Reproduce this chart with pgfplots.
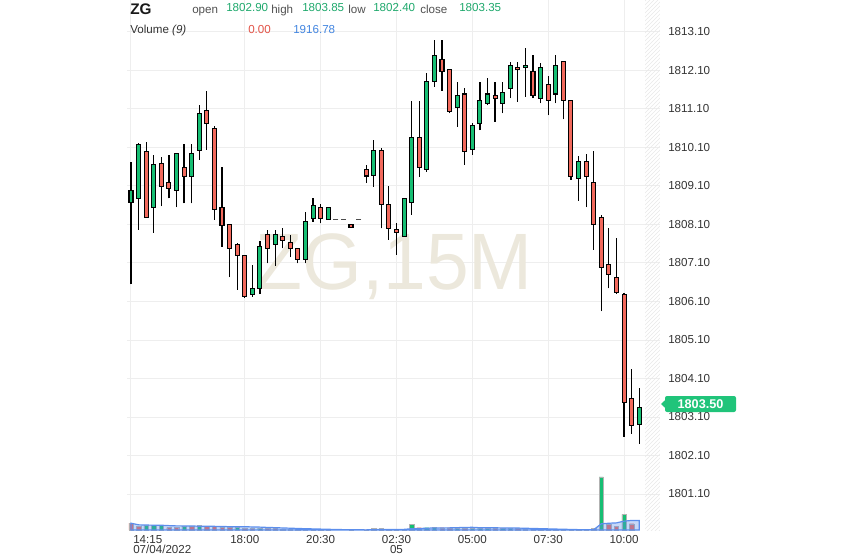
\documentclass[border=0pt]{standalone}
\usepackage{fontspec}
\setmainfont{Liberation Sans}
\usepackage{pgfplots}
\pgfplotsset{compat=1.18}
\usepackage{pgfplotstable}
\usetikzlibrary{patterns}

\definecolor{upG}{RGB}{22,190,115}
\definecolor{downR}{RGB}{242,105,92}
\definecolor{hdrG}{RGB}{30,168,108}
\definecolor{hdrR}{RGB}{226,82,70}
\definecolor{hdrB}{RGB}{66,133,224}
\definecolor{maBlue}{RGB}{92,142,236}
\definecolor{gridgray}{RGB}{238,238,238}
\definecolor{tickgray}{RGB}{51,51,51}
\definecolor{lblgray}{RGB}{80,80,80}
\definecolor{wm}{RGB}{236,232,220}
\definecolor{tagG}{RGB}{32,196,122}

\pgfplotstableread{
i O H L C
0 1808.68 1809.73 1806.55 1808.98
1 1808.78 1810.22 1807.96 1810.18
2 1809.99 1810.24 1808.27 1808.29
3 1808.55 1809.91 1807.89 1809.65
4 1809.69 1809.85 1808.58 1809.08
5 1809.20 1809.91 1808.78 1809.04
6 1808.98 1809.97 1808.55 1809.95
7 1809.59 1810.18 1808.65 1809.34
8 1809.34 1810.18 1808.65 1809.95
9 1810.02 1811.20 1809.78 1810.99
10 1811.05 1811.58 1810.04 1810.73
11 1810.60 1810.65 1808.22 1808.49
12 1808.55 1809.59 1807.52 1808.07
13 1808.09 1808.12 1806.73 1807.48
14 1807.59 1807.62 1806.40 1807.29
15 1807.29 1807.31 1806.20 1806.24
16 1806.29 1807.05 1806.22 1806.44
17 1806.44 1807.68 1806.29 1807.54
18 1807.85 1807.96 1807.09 1807.48
19 1807.59 1807.96 1807.03 1807.85
20 1807.78 1808.00 1807.48 1807.68
21 1807.64 1807.83 1807.25 1807.48
22 1807.48 1807.50 1807.09 1807.20
23 1807.20 1808.43 1807.09 1808.17
24 1808.26 1808.78 1808.17 1808.59
25 1808.55 1808.63 1808.13 1808.26
26 1808.22 1808.55 1808.22 1808.55
27 1808.22 1808.22 1808.22 1808.22
28 1808.22 1808.22 1808.22 1808.22
29 1808.11 1808.11 1808.02 1808.02
30 1808.22 1808.22 1808.22 1808.22
31 1809.53 1809.65 1809.19 1809.36
32 1809.37 1810.29 1809.08 1810.01
33 1810.01 1810.08 1808.00 1808.61
34 1808.61 1809.10 1807.70 1808.00
35 1807.96 1808.13 1807.31 1807.90
36 1807.78 1808.78 1807.78 1808.78
37 1808.68 1811.31 1808.35 1810.35
38 1810.35 1811.31 1809.34 1809.59
39 1809.52 1812.03 1809.47 1811.81
40 1811.81 1812.89 1811.68 1812.50
41 1812.39 1812.89 1811.58 1812.07
42 1812.13 1812.15 1810.99 1811.03
43 1811.14 1811.81 1810.64 1811.44
44 1811.49 1811.64 1809.65 1809.99
45 1810.04 1810.73 1809.91 1810.68
46 1810.73 1811.79 1810.55 1811.31
47 1811.25 1811.90 1811.20 1811.49
48 1811.44 1811.79 1810.77 1811.38
49 1811.25 1811.79 1810.99 1811.53
50 1811.64 1812.33 1811.38 1812.24
51 1812.18 1812.33 1811.29 1812.13
52 1812.18 1812.68 1811.42 1812.24
53 1812.07 1812.50 1811.38 1811.44
54 1811.38 1812.29 1811.25 1812.18
55 1811.74 1811.96 1810.94 1811.33
56 1811.49 1812.50 1811.25 1812.24
57 1812.33 1812.35 1810.83 1811.32
58 1811.31 1811.33 1809.26 1809.34
59 1809.30 1809.89 1808.72 1809.73
60 1809.73 1809.93 1808.55 1809.34
61 1809.19 1810.02 1807.44 1808.09
62 1808.29 1808.35 1805.85 1806.99
63 1807.05 1808.00 1806.44 1806.79
64 1806.73 1807.74 1806.30 1806.34
65 1806.29 1806.32 1802.59 1803.48
66 1803.59 1804.34 1802.66 1802.89
67 1802.90 1803.85 1802.40 1803.35
}\candles

\pgfplotstableread{
i v
2 920
3 920
4 920
7 820
9 920
14 510
17 410
23 80
24 60
26 40
32 410
33 410
36 160
37 1170
39 470
40 570
43 470
45 410
46 410
47 410
49 370
50 370
52 100
54 60
56 40
59 20
62 10870
65 3220
}\volup

\pgfplotstableread{
i v
0 1400
1 720
5 510
6 510
8 720
10 720
11 720
12 620
13 620
15 410
16 410
18 310
19 310
20 200
21 160
22 100
25 40
29 20
31 20
34 100
35 80
38 470
41 470
42 470
44 470
48 370
51 310
53 80
55 40
57 20
58 20
60 20
61 300
63 1170
64 680
66 1290
}\voldown

\pgfplotstableread{
i ma
0 1400
1 1060
2 1013
3 990
4 976
5 898
6 843
7 840
8 827
9 773
10 773
11 751
12 718
13 684
14 684
15 673
16 628
17 593
18 526
19 480
20 422
21 371
22 313
23 266
24 227
25 186
26 144
27 110
28 76
29 56
30 38
31 29
32 66
33 104
34 111
35 116
36 133
37 263
38 313
39 366
40 427
41 433
42 440
43 481
44 524
45 552
46 468
47 461
48 450
49 428
50 417
51 399
52 358
53 314
54 276
55 234
56 193
57 154
58 116
59 77
60 44
61 67
62 1266
63 1389
64 1460
65 1813
66 1954
67 1952
}\maTable

\pgfplotsset{base/.style={at={(95.25pt,21pt)}, anchor=south west,
  width=399.75pt, height=397.5pt, scale only axis,
  xmin=-0.527, xmax=69.74, enlargelimits=false}}

\newcommand{\tfont}{\fontsize{8.7}{7.6}\selectfont}

\begin{document}
\begin{tikzpicture}
\useasboundingbox (0,0) rectangle (632.25pt,418.5pt);

% grid, labels, watermark
\begin{axis}[base, ymin=1800.165, ymax=1813.931, clip=false,
  axis line style={draw=none}, major tick length=0pt, tick style={draw=none},
  xtick={0,15,25,35,45,55,65}, xticklabels={},
  ytick={1801.1,1802.1,1803.1,1804.1,1805.1,1806.1,1807.1,1808.1,1809.1,1810.1,1811.1,1812.1,1813.1},
  yticklabel pos=right,
  yticklabel style={anchor=west, inner sep=0pt, xshift=6pt, font=\fontsize{8.7}{10}\selectfont, text=tickgray},
  grid=major, grid style={draw=gridgray, line width=0.75pt},
  /pgf/number format/.cd, fixed, fixed zerofill, precision=2, 1000 sep={}, assume math mode=true]
\fill[pattern=north east lines, pattern color=black!9] (axis cs:67.77,1800.165) rectangle (axis cs:69.74,1813.931);
\node[anchor=base, text=wm, font=\fontsize{60}{60}\selectfont, xscale=0.96] at (axis cs:34.7,1806.40) {ZG,15M};
\node[anchor=north west, align=left, inner sep=0pt, xshift=1.5pt, yshift=-3.75pt, font=\tfont, text=tickgray] at (axis cs:0,1800.165) {14:15\\07/04/2022};
\node[anchor=north, inner sep=0pt, yshift=-3.75pt, font=\tfont, text=tickgray] at (axis cs:15,1800.165) {18:00};
\node[anchor=north, inner sep=0pt, yshift=-3.75pt, font=\tfont, text=tickgray] at (axis cs:25,1800.165) {20:30};
\node[anchor=north, align=center, inner sep=0pt, yshift=-3.75pt, font=\tfont, text=tickgray] at (axis cs:35,1800.165) {02:30\\05};
\node[anchor=north, inner sep=0pt, yshift=-3.75pt, font=\tfont, text=tickgray] at (axis cs:45,1800.165) {05:00};
\node[anchor=north, inner sep=0pt, yshift=-3.75pt, font=\tfont, text=tickgray] at (axis cs:55,1800.165) {07:30};
\node[anchor=north, inner sep=0pt, yshift=-3.75pt, font=\tfont, text=tickgray] at (axis cs:65,1800.165) {10:00};
\end{axis}

% volume
\begin{axis}[base, ymin=0, ymax=108650, hide axis]
\addplot[ybar, bar width=3.3pt, bar shift=0pt, fill=upG, draw=black!30, line width=0.3pt] table[x=i, y=v] {\volup};
\addplot[ybar, bar width=3.3pt, bar shift=0pt, fill=downR, draw=black!30, line width=0.3pt] table[x=i, y=v] {\voldown};
\addplot[fill=maBlue, fill opacity=0.35, draw=maBlue, line width=0.9pt] table[x=i, y=ma] {\maTable} \closedcycle;
\end{axis}

% wicks and flat (no-trade) bars
\begin{axis}[base, ymin=1800.165, ymax=1813.931, hide axis]
\addplot[only marks, mark=*, mark size=0pt, mark options={draw=none, fill=none},
  error bars/.cd, y dir=plus, y explicit, error mark=none,
  error bar style={line width=0.9pt, black}]
  table[x=i, y=L, y error plus expr={\thisrow{H}-\thisrow{L}}] {\candles};
\addplot[only marks, mark=-, mark size=1.9pt, mark options={draw=black!70, line width=0.8pt}]
  coordinates {(27,1808.22) (28,1808.22) (30,1808.22)};
\end{axis}

% bodies
\begin{axis}[base, ymin=1800.165, ymax=1813.931, hide axis, ybar stacked, bar width=3pt]
\addplot[draw=none, fill=none] table[x=i, y expr={min(\thisrow{O},\thisrow{C})}] {\candles};
\addplot[fill=upG, draw=black, line width=0.8pt] table[x=i, y expr={max(\thisrow{C}-\thisrow{O},0)}] {\candles};
\addplot[fill=downR, draw=black, line width=0.8pt] table[x=i, y expr={max(\thisrow{O}-\thisrow{C},0)}] {\candles};
\end{axis}

% price tag
\fill[tagG, rounded corners=1.5pt] (498.75pt,109.5pt) rectangle (552pt,121.5pt);
\fill[tagG] (495.75pt,115.5pt) -- (499.5pt,119pt) -- (499.5pt,112pt) -- cycle;
\node[text=white, font=\bfseries\fontsize{9.5}{10}\selectfont, inner sep=0pt] at (525.4pt,115.5pt) {1803.50};

% header
\node[anchor=base west, inner sep=0pt, font=\bfseries\fontsize{11.5}{12}\selectfont, text=black!90] at (97.5pt,407.25pt) {ZG};
\node[anchor=base west, inner sep=0pt, font=\fontsize{8.7}{10}\selectfont, text=lblgray] at (144pt,408.2pt) {open};
\node[anchor=base west, inner sep=0pt, font=\fontsize{8.7}{10}\selectfont, text=hdrG] at (169.5pt,409.5pt) {1802.90};
\node[anchor=base west, inner sep=0pt, font=\fontsize{8.7}{10}\selectfont, text=lblgray] at (203.25pt,408.2pt) {high};
\node[anchor=base west, inner sep=0pt, font=\fontsize{8.7}{10}\selectfont, text=hdrG] at (226.5pt,409.5pt) {1803.85};
\node[anchor=base west, inner sep=0pt, font=\fontsize{8.7}{10}\selectfont, text=lblgray] at (261pt,408.2pt) {low};
\node[anchor=base west, inner sep=0pt, font=\fontsize{8.7}{10}\selectfont, text=hdrG] at (279.75pt,409.5pt) {1802.40};
\node[anchor=base west, inner sep=0pt, font=\fontsize{8.7}{10}\selectfont, text=lblgray] at (315pt,408.2pt) {close};
\node[anchor=base west, inner sep=0pt, font=\fontsize{8.7}{10}\selectfont, text=hdrG] at (344.25pt,409.5pt) {1803.35};
\node[anchor=base west, inner sep=0pt, font=\fontsize{8.7}{10}\selectfont, text=tickgray] at (97.5pt,393pt) {Volume \textit{(9)}};
\node[anchor=base west, inner sep=0pt, font=\fontsize{8.7}{10}\selectfont, text=hdrR] at (186pt,393pt) {0.00};
\node[anchor=base west, inner sep=0pt, font=\fontsize{8.7}{10}\selectfont, text=hdrB] at (219.75pt,393pt) {1916.78};
\end{tikzpicture}
\end{document}
